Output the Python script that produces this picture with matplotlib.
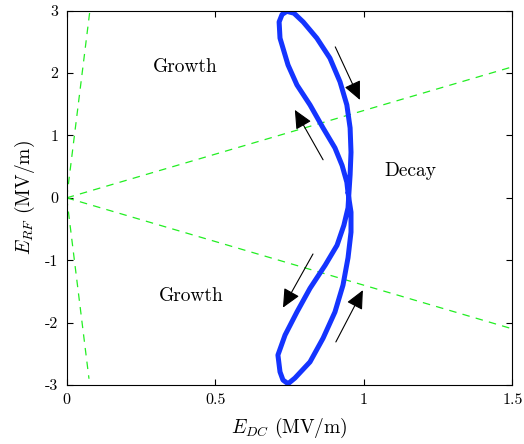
import matplotlib
matplotlib.use("Agg")
import matplotlib.pyplot as plt

plt.rcParams['font.family'] = 'serif'
plt.rcParams['font.serif'] = ['cmr10']
plt.rcParams['mathtext.fontset'] = 'cm'
plt.rcParams['axes.unicode_minus'] = False

# closed trajectory (E_DC, E_RF)
loop_x = [0.947, 0.943, 0.927, 0.903, 0.863, 0.819, 0.775, 0.745, 0.718, 0.715, 0.725, 0.741,
          0.765, 0.796, 0.842, 0.886, 0.920, 0.943, 0.954, 0.957, 0.954, 0.950,
          0.947, 0.933, 0.910, 0.870, 0.819, 0.775, 0.735, 0.711, 0.718, 0.728, 0.745,
          0.768, 0.819, 0.863, 0.903, 0.930, 0.947, 0.957, 0.957, 0.947]
loop_y = [0.08, 0.25, 0.52, 0.80, 1.12, 1.49, 1.81, 2.13, 2.56, 2.82, 2.94, 2.99,
          2.96, 2.82, 2.56, 2.24, 1.86, 1.49, 1.12, 0.73, 0.37, 0.08,
          -0.16, -0.44, -0.76, -1.08, -1.45, -1.83, -2.20, -2.52, -2.79, -2.92, -2.98,
          -2.89, -2.63, -2.25, -1.83, -1.40, -0.96, -0.55, -0.23, 0.08]

# boundary lines (dashed green)
bnd_lines = [([0, 1.5], [0, 2.1]), ([0, 1.5], [0, -2.1]),
             ([0, 0.078], [0, 3.0]), ([0, 0.075], [0, -2.9])]

# arrows: (tail_x, tail_y, head_x, head_y)
arrows = [(0.904, 2.42, 0.987, 1.57),
          (0.863, 0.61, 0.768, 1.41),
          (0.829, -0.90, 0.728, -1.76),
          (0.906, -2.31, 0.997, -1.48)]

# region labels
labels = [("Growth", 0.398, 2.10), ("Decay", 1.156, 0.43), ("Growth", 0.418, -1.57)]

xticks = [0, 0.5, 1, 1.5]
xticklabels = ['0', '0.5', '1', '1.5']
yticks = [-3, -2, -1, 0, 1, 2, 3]
yticklabels = ['-3', '-2', '-1', '0', '1', '2', '3']

fig = plt.figure(figsize=(5.24, 4.44), dpi=100)
ax = fig.add_axes([0.1273, 0.1329, 0.8504, 0.843])

for xs, ys in bnd_lines:
    ax.plot(xs, ys, color='#22ee22', lw=0.9, dashes=(6, 5))

ax.plot(loop_x, loop_y, color='#1434ff', lw=3.6, solid_joinstyle='round', solid_capstyle='round')

for tx, ty, hx, hy in arrows:
    ax.annotate('', xy=(hx, hy), xytext=(tx, ty),
                arrowprops=dict(arrowstyle='-|>,head_length=0.6,head_width=0.28',
                                mutation_scale=19, lw=0.8, color='black',
                                shrinkA=0, shrinkB=0))

for s, x, y in labels:
    ax.text(x, y, s, ha='center', va='center', fontsize=14)

ax.set_xlim(0, 1.5)
ax.set_ylim(-3, 3)
ax.set_xticks(xticks)
ax.set_xticklabels(xticklabels)
ax.set_yticks(yticks)
ax.set_yticklabels(yticklabels)
ax.tick_params(direction='in', top=True, right=True, length=4, labelsize=11.5, pad=6)
ax.set_xlabel('$E_{DC}$ (MV/m)', fontsize=14, labelpad=6)
ax.set_ylabel('$E_{RF}$ (MV/m)', fontsize=14, labelpad=6)

fig.savefig('out.png', dpi=100)
